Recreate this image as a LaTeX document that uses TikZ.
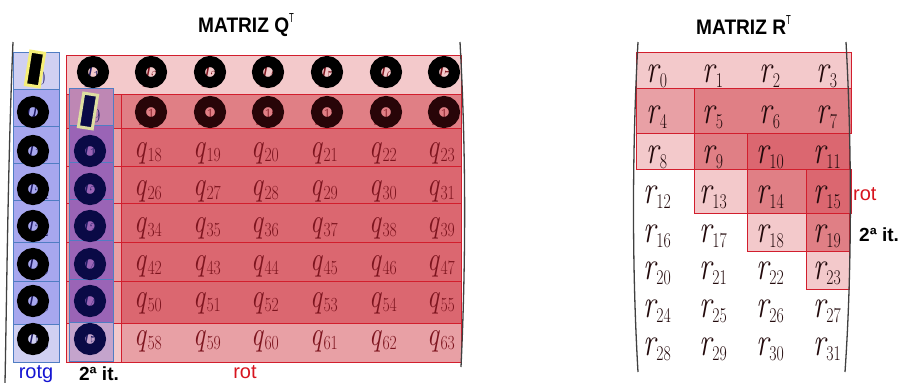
\documentclass[tikz,border=0pt]{standalone}
\usepackage{fontspec}
\setsansfont{Liberation Sans}
\usepackage{tikz}
\usetikzlibrary{calc}
\definecolor{pinkLight}{RGB}{243, 201, 203}
\definecolor{pinkMid}{RGB}{232, 160, 165}
\definecolor{redMid}{RGB}{224, 127, 133}
\definecolor{redDark}{RGB}{219, 103, 112}
\definecolor{lineRed}{RGB}{210, 30, 45}
\definecolor{blueLight}{RGB}{208, 208, 242}
\definecolor{blueMid}{RGB}{167, 167, 238}
\definecolor{lineBlue}{RGB}{80, 125, 195}
\definecolor{purpleLight}{RGB}{190, 135, 180}
\definecolor{purpleMid}{RGB}{154, 100, 182}
\definecolor{purplePale}{RGB}{196, 164, 204}
\definecolor{qText}{RGB}{125, 20, 30}
\definecolor{navyText}{RGB}{30, 25, 100}
\definecolor{rText}{RGB}{35, 10, 12}
\definecolor{ringRed}{RGB}{40, 5, 8}
\definecolor{ringNavy}{RGB}{10, 10, 70}
\definecolor{markYellow}{RGB}{245, 238, 120}
\definecolor{markPale}{RGB}{222, 222, 160}
\definecolor{tagBlue}{RGB}{20, 20, 210}
\definecolor{tagRed}{RGB}{215, 20, 30}

\newcommand{\qent}[1]{\scalebox{0.78}[1]{\fontsize{34}{34}\selectfont\itshape q\hspace{2pt}\raisebox{-4.5pt}{\upshape\fontsize{20}{20}\selectfont #1}}}
\newcommand{\rent}[1]{\scalebox{0.75}[1]{\fontsize{40}{40}\selectfont\itshape r\hspace{1pt}\raisebox{-5pt}{\upshape\fontsize{21}{21}\selectfont #1}}}

\begin{document}
\begin{tikzpicture}[x=1pt, y=-1pt,
        q_entry/.style   = {anchor=base, inner sep=0pt},
        r_entry/.style   = {anchor=base, inner sep=0pt, text=rText},
        red_cell/.style  = {draw=lineRed, line width=0.9pt},
        blue_cell/.style = {draw=lineBlue, line width=0.9pt},
        ring_mark/.style = {draw=black, line width=11pt},
        pivot_box/.style = {rectangle, fill=black, draw=markYellow, line width=3pt,
            minimum width=14pt, minimum height=34pt, rotate=-9, inner sep=0pt},
        bracket/.style   = {draw=black!75, line width=1.3pt},
        title_text/.style = {inner sep=0pt, font=\sffamily\bfseries\fontsize{21}{21}\selectfont},
        tag_text/.style  = {inner sep=0pt, font=\sffamily\fontsize{20}{20}\selectfont},
        it_text/.style   = {inner sep=0pt, font=\sffamily\bfseries\fontsize{19}{19}\selectfont}
    ]
    \useasboundingbox (0,0) rectangle (903,383);
    \clip (0,0) rectangle (903,383);

    % Q^T: red rows
    \filldraw[red_cell, fill=pinkLight] (66,55) rectangle (461,94);
    \filldraw[red_cell, fill=redMid] (66,94) rectangle (461,128);
    \foreach \ya/\yb in {128/166, 166/203, 203/242, 242/281, 281/323} {
        \filldraw[red_cell, fill=redDark] (66,\ya) rectangle (461,\yb);
        \filldraw[red_cell, fill=pinkMid] (66,\ya) rectangle (121,\yb);
    }
    \filldraw[red_cell, fill=pinkMid] (66,323) rectangle (461,362);
    \filldraw[red_cell, fill=pinkLight] (66,323) rectangle (121,362);
    \draw[red_cell] (121,94) -- (121,362);

    % Q^T: rotg column and 2a it. column
    \foreach \ya/\yb/\fc in {52/89/blueLight, 89/126/blueMid, 126/163/blueMid, 163/200/blueMid,
                             200/242/blueMid, 242/281/blueMid, 281/324/blueMid, 324/362/blueLight}
        \filldraw[blue_cell, fill=\fc] (13,\ya) rectangle (59,\yb);
    \foreach \ya/\yb/\fc in {88/125/purpleLight, 125/162/purpleMid, 162/199/purpleMid, 199/240/purpleMid,
                             240/279/purpleMid, 279/322/purpleMid, 322/361/purplePale}
        \filldraw[blue_cell, fill=\fc] (69,\ya) rectangle (113,\yb);

    % Q^T entries
    \foreach \row in {0,...,7} {
        \foreach \col in {0,...,7} {
            \pgfmathtruncatemacro{\idx}{8*\row+\col}
            \pgfmathsetmacro{\cx}{{35,90,148,207,265,324,383,441}[\col]}
            \pgfmathsetmacro{\cy}{{80,118,157,195,232,270,307,345}[\row]}
            \ifnum\col<2 \def\tc{navyText}\else\def\tc{qText}\fi
            \node[q_entry, text=\tc] (q\idx) at (\cx,\cy) {\qent{\idx}};
        }
    }

    % marks over Q^T
    \foreach \k in {1,...,7}
        \draw[ring_mark] ($(q\k.base)+(3,-8)$) circle (10.5pt);
    \foreach \k in {10,...,15}
        \draw[ring_mark, draw=ringRed] ($(q\k.base)+(3,-6)$) circle (10.5pt);
    \foreach \k in {8,16,24,32,40,48,56}
        \draw[ring_mark] ($(q\k.base)+(-2,-6)$) circle (10.5pt);
    \foreach \k in {17,25,33,41,49,57}
        \draw[ring_mark, draw=ringNavy] ($(q\k.base)+(0,-6)$) circle (10.5pt);
    \node[pivot_box] (pivot_a) at ($(q0.base)+(0,-11)$) {};
    \node[pivot_box, fill=ringNavy, draw=markPale] (pivot_b) at ($(q9.base)+(-2,-7)$) {};

    \draw[bracket] (13,42) .. controls (8,160) and (7,280) .. (5,383);
    \draw[bracket] (460,42) .. controls (466,150) and (466,260) .. (461,367);

    \node[title_text, anchor=base west] (title_q) at (198,32)
        {\scalebox{0.91}[1]{MATRIZ Q}\raisebox{10pt}{\mdseries\fontsize{13}{13}\selectfont\scalebox{0.6}[1]{T}}};
    \node[tag_text, text=tagBlue, anchor=base] (tag_rotg) at (36,378) {rotg};
    \node[it_text, anchor=base] (tag_it_q) at (99,380) {2ª it.};
    \node[tag_text, text=tagRed, anchor=base] (tag_rot_q) at (245,378) {rot};

    % R^T: rotated cells
    \filldraw[red_cell, fill=pinkLight] (636,52) rectangle (851,88);
    \filldraw[red_cell, fill=pinkMid] (636,88) rectangle (694,133);
    \filldraw[red_cell, fill=redMid] (694,88) rectangle (851,133);
    \filldraw[red_cell, fill=pinkLight] (636,133) rectangle (694,169);
    \filldraw[red_cell, fill=redMid] (694,133) rectangle (747,169);
    \filldraw[red_cell, fill=redDark] (747,133) rectangle (849,169);
    \filldraw[red_cell, fill=pinkLight] (694,169) rectangle (747,213);
    \filldraw[red_cell, fill=redMid] (747,169) rectangle (806,213);
    \filldraw[red_cell, fill=redDark] (806,169) rectangle (851,213);
    \filldraw[red_cell, fill=pinkLight] (747,213) rectangle (806,251);
    \filldraw[red_cell, fill=redMid] (806,213) rectangle (849,251);
    \filldraw[red_cell, fill=pinkLight] (806,251) rectangle (849,289);

    % R^T entries
    \foreach \row in {0,...,7} {
        \foreach \col in {0,...,3} {
            \pgfmathtruncatemacro{\idx}{4*\row+\col}
            \pgfmathsetmacro{\cx}{{657,713,770,827}[\col]}
            \pgfmathsetmacro{\cy}{{82,123,163,203,242,279,317,355}[\row]}
            \node[r_entry] (r\idx) at (\cx,\cy) {\rent{\idx}};
        }
    }

    \draw[bracket] (638,42) .. controls (632,150) and (632,270) .. (638,372);
    \draw[bracket] (846,42) .. controls (852,150) and (852,270) .. (845,372);

    \node[title_text, anchor=base west] (title_r) at (696,34)
        {\scalebox{0.91}[1]{MATRIZ R}\raisebox{10pt}{\mdseries\fontsize{13}{13}\selectfont\scalebox{0.6}[1]{T}}};
    \node[tag_text, text=tagRed, anchor=base west] (tag_rot_r) at (853,200) {rot};
    \node[it_text, anchor=base west] (tag_it_r) at (859,241) {2ª it.};
\end{tikzpicture}
\end{document}
